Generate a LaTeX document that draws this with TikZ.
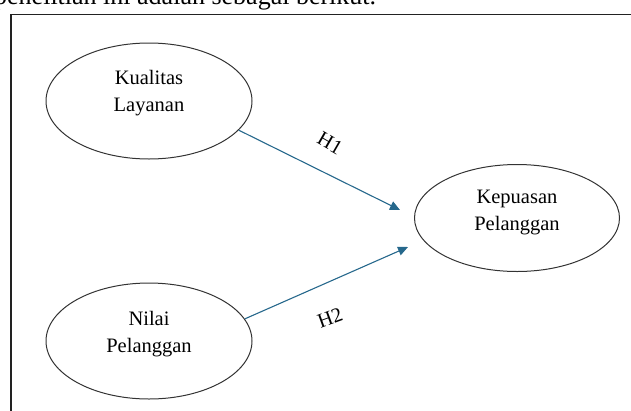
\documentclass[tikz,border=0pt]{standalone}
\usepackage{fontspec}
\setmainfont{Liberation Serif}
\usetikzlibrary{shapes.geometric,arrows.meta}
\tikzset{
    variable/.style={
            ellipse,
            draw={#1},
            line width=1pt,
            inner sep=0pt, % only the ellipse
            minimum width=206pt,
            minimum height=116pt
        },
    variable/.default={ellgray}
}
\tikzset{
    varlabel/.style={
            font=\fontsize{20.5}{27}\selectfont,
            align=center,
            inner sep=0pt
        }
}
\tikzset{
    hypo/.style={
            {#1},
            line width=1.1pt,
            -{Triangle[length=10pt,width=9pt]}
        },
    hypo/.default={arrowblue}
}
\tikzset{
    hyplabel/.style={
            font=\fontsize{20.5}{24}\selectfont,
            inner sep=0pt
        }
}
\definecolor{ellgray}{RGB}{51,51,51}
\definecolor{arrowblue}{RGB}{38,104,140}
\definecolor{framegray}{RGB}{34,34,34}

\begin{document}
\begin{tikzpicture}[x=1pt, y=-1pt]
    \useasboundingbox (0,0) rectangle (631,410);
    % line of text above the figure, cut by the page
    \node [anchor=base west, inner sep=0pt, font=\fontsize{26}{30}\selectfont] (pagetext) at (-6,4) {penelitian ini adalah sebagai berikut.};
    \draw [framegray, line width=1.5pt] (11,430) -- (11,14.5) -- (650,14.5);
    %
    \node [variable] (kual) at (149,101) {};
    \node [variable] (nilai) at (149,341) {};
    \node [variable, minimum width=205pt, minimum height=107pt] (kepuasan) at (517,218) {};
    %
    \node [varlabel] (kualtext) at ([yshift=8pt]kual.center) {Kualitas\\Layanan};
    \node [varlabel] (nilaitext) at ([yshift=7pt]nilai.center) {Nilai\\Pelanggan};
    \node [varlabel] (kepuasantext) at ([yshift=6pt]kepuasan.center) {Kepuasan\\Pelanggan};
    %
    \coordinate (hend1) at (400,210);
    \coordinate (hend2) at (408,247);
    \draw [hypo] (kual.-18) -- (hend1);
    \draw [hypo] (nilai.13) -- (hend2);
    \node [hyplabel, rotate=-30] (hone) at (330,143) {H1};
    \node [hyplabel, rotate=20] (htwo) at (330,318) {H2};
\end{tikzpicture}
\end{document}
